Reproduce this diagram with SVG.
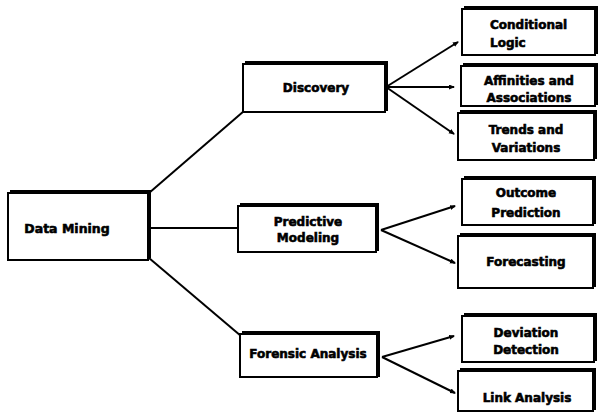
<svg xmlns="http://www.w3.org/2000/svg" width="599" height="414" viewBox="0 0 599 414">
<style>
.sh{fill:#000}
.bx{fill:#fff;stroke:#000;stroke-width:2}
.t{font-family:"DejaVu Sans","Liberation Sans",sans-serif;font-weight:bold;font-size:12px;fill:#000;stroke:#000;stroke-width:0.6;text-anchor:middle}
.c{stroke:#000;stroke-width:2;fill:none}
</style>
<defs>
<marker id="ah" markerUnits="userSpaceOnUse" markerWidth="6" markerHeight="6" refX="5" refY="2.5" orient="auto">
<path d="M0,0 L6,2.5 L0,5 z" fill="#000"/>
</marker>
</defs>
<rect width="599" height="414" fill="#fff"/>
<g id="connectors">
<line class="c" x1="149" y1="193" x2="244" y2="111"/>
<line class="c" x1="149" y1="228" x2="239" y2="228"/>
<line class="c" x1="149" y1="258" x2="241" y2="336"/>
<line class="c" x1="386" y1="87" x2="458" y2="42" marker-end="url(#ah)"/>
<line class="c" x1="386" y1="87" x2="454" y2="87" marker-end="url(#ah)"/>
<line class="c" x1="386" y1="87" x2="454" y2="134" marker-end="url(#ah)"/>
<line class="c" x1="381" y1="230" x2="455" y2="206" marker-end="url(#ah)"/>
<line class="c" x1="381" y1="230" x2="455" y2="263" marker-end="url(#ah)"/>
<line class="c" x1="382" y1="357" x2="454" y2="336" marker-end="url(#ah)"/>
<line class="c" x1="382" y1="357" x2="455" y2="393" marker-end="url(#ah)"/>
</g>
<g id="data-mining">
<rect class="sh" x="10" y="190" width="141" height="68"/>
<rect class="bx" x="8" y="193" width="140" height="67"/>
<text class="t" x="67" y="233" style="font-size:12.5px">Data Mining</text>
</g>
<g id="discovery">
<rect class="sh" x="245" y="61" width="143" height="50"/>
<rect class="bx" x="243" y="64" width="142" height="48"/>
<text class="t" x="316" y="92">Discovery</text>
</g>
<g id="predictive-modeling">
<rect class="sh" x="240" y="203" width="139" height="48"/>
<rect class="bx" x="238" y="206" width="138" height="46"/>
<text class="t" x="308" y="226">Predictive</text>
<text class="t" x="308" y="242">Modeling</text>
</g>
<g id="forensic-analysis">
<rect class="sh" x="242" y="331" width="138" height="46"/>
<rect class="bx" x="240" y="334" width="137" height="43"/>
<text class="t" x="308" y="358">Forensic Analysis</text>
</g>
<g id="conditional-logic">
<rect class="sh" x="464" y="6" width="134" height="48"/>
<rect class="bx" x="462" y="9" width="133" height="46"/>
<text class="t" x="490" y="29" style="text-anchor:start">Conditional</text>
<text class="t" x="490" y="47" style="text-anchor:start">Logic</text>
</g>
<g id="affinities">
<rect class="sh" x="463" y="63" width="135" height="42"/>
<rect class="bx" x="461" y="66" width="134" height="40"/>
<text class="t" x="529" y="85">Affinities and</text>
<text class="t" x="529" y="102">Associations</text>
</g>
<g id="trends">
<rect class="sh" x="460" y="110" width="137" height="49"/>
<rect class="bx" x="458" y="113" width="136" height="47"/>
<text class="t" x="526" y="134">Trends and</text>
<text class="t" x="526" y="152">Variations</text>
</g>
<g id="outcome-prediction">
<rect class="sh" x="464" y="176" width="132" height="48"/>
<rect class="bx" x="462" y="179" width="131" height="46"/>
<text class="t" x="526" y="197">Outcome</text>
<text class="t" x="526" y="217">Prediction</text>
</g>
<g id="forecasting">
<rect class="sh" x="460" y="233" width="136" height="54"/>
<rect class="bx" x="458" y="236" width="135" height="52"/>
<text class="t" x="526" y="266">Forecasting</text>
</g>
<g id="deviation-detection">
<rect class="sh" x="464" y="313" width="133" height="48"/>
<rect class="bx" x="462" y="316" width="132" height="46"/>
<text class="t" x="526" y="337">Deviation</text>
<text class="t" x="526" y="354">Detection</text>
</g>
<g id="link-analysis">
<rect class="sh" x="460" y="368" width="136" height="42"/>
<rect class="bx" x="458" y="371" width="135" height="40"/>
<text class="t" x="527" y="402">Link Analysis</text>
</g>
</svg>
